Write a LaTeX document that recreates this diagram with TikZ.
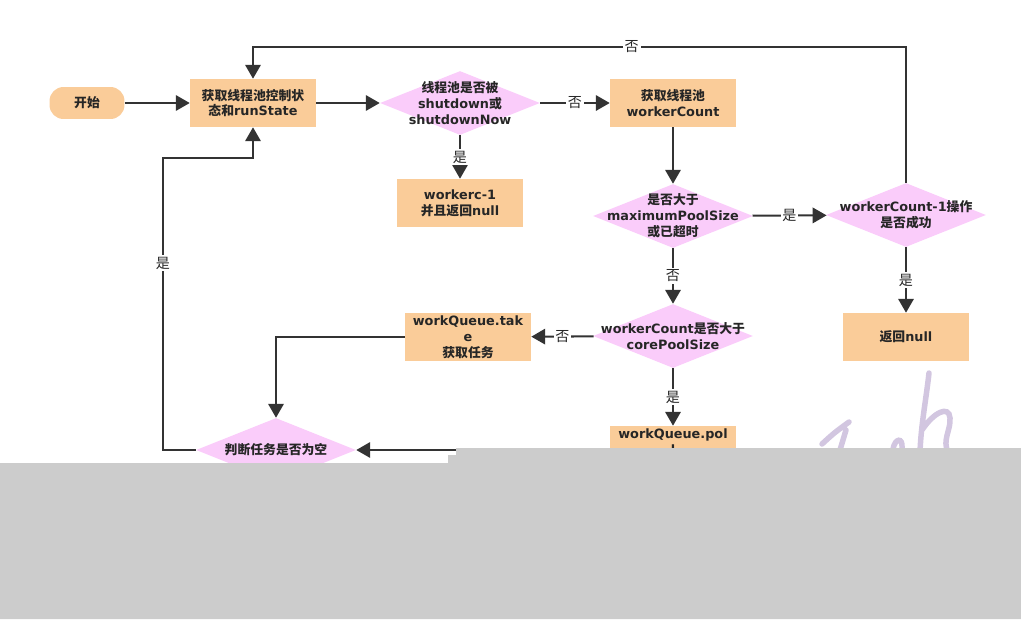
\documentclass[tikz,border=0pt]{standalone}
\usepackage{fontspec}
\setmainfont{DejaVu Sans}
\newfontfamily\zhfont{Noto Sans CJK SC}
\usetikzlibrary{arrows,shapes.geometric}
\definecolor{boxfill}{RGB}{250,204,153}
\definecolor{decfill}{RGB}{250,204,250}
\definecolor{linecol}{RGB}{51,51,51}
\definecolor{markcol}{RGB}{210,198,224}
\definecolor{coverfill}{RGB}{204,204,204}
\newcommand{\zh}[1]{{\zhfont #1}}

\begin{document}
\begin{tikzpicture}[x = 0.02cm, y = -0.02cm, every node/.style = {font = \fontsize{7.3}{9}\selectfont\bfseries, text = black!85, align = center},
	proc/.style = {rectangle, fill = boxfill, minimum width = 2.52cm, minimum height = 0.96cm, inner sep = 0pt},
	decide/.style = {diamond, fill = decfill, minimum width = 3.2cm, minimum height = 1.28cm, inner xsep = -1cm, inner ysep = -0.5cm},
	lbl/.style = {fill = white, inner sep = 1pt, font = \fontsize{8}{9}\selectfont\mdseries},
	conn/.style = {draw = linecol, line width = 1.15pt, -triangle 60}]

	\useasboundingbox (0,0) rectangle (1021,619);

	\node (start)   at ( 87, 103) [proc, minimum width = 1.5cm, minimum height = 0.64cm, rounded corners = 0.28cm] {\zh{开始}};
	\node (state)   at (253, 103) [proc]   {\zh{获取线程池控制状}\\\zh{态和}runState};
	\node (shut)    at (460, 103) [decide] {\zh{线程池是否被}\\shutdown\zh{或}\\shutdownNow};
	\node (count)   at (673, 103) [proc]   {\zh{获取线程池}\\workerCount};
	\node (minus)   at (460, 203) [proc]   {workerc-1\\\zh{并且返回}null};
	\node (maxsize) at (673, 216) [decide] {\zh{是否大于}\\maximumPoolSize\\\zh{或已超时}};
	\node (dec)     at (906, 215) [decide] {workerCount-1\zh{操作}\\\zh{是否成功}};
	\node (retnull) at (906, 337) [proc]   {\zh{返回}null};
	\node (core)    at (673, 336) [decide] {workerCount\zh{是否大于}\\corePoolSize};
	\node (take)    at (468, 337) [proc]   {workQueue.tak\\e\\\zh{获取任务}};
	\node (empty)   at (276, 450) [decide] {\zh{判断任务是否为空}};
	\node (poll)    at (673, 450) [proc]   {workQueue.pol\\l\\\zh{获取任务}};

	\coordinate (topR)  at (906, 47);
	\coordinate (topL)  at (253, 47);
	\coordinate (backB) at (163, 158);

	\foreach \from/\to in {start/state, state/shut, count/maxsize, poll/empty}
		\path (\from) edge [conn] (\to);
	\foreach \from/\txt/\to in {shut/否/count, shut/是/minus, maxsize/是/dec, maxsize/否/core,
	dec/是/retnull, core/否/take, core/是/poll}
		\path (\from) edge [conn] node[lbl] {\zh{\txt}} (\to);

	\draw [conn] (dec) -- (topR) -- node[lbl, pos = 0.42] {\zh{否}} (topL) -- (state);
	\draw [conn] (empty) -| node[lbl, pos = 0.82] {\zh{是}} (backB) -| (state);
	\draw [conn] (take) -| (empty);

	% signature watermark
	\draw [markcol, line width = 0.11cm, line cap = round]
		(822, 444) .. controls (834, 433) .. (849, 422)
		(846, 430) .. controls (843, 440) .. (840, 450)
		(893, 449) .. controls (895, 438) and (903, 437) .. (902, 448)
		(929, 373) .. controls (926, 400) and (921, 425) .. (920, 452)
		(922, 430) .. controls (934, 412) and (949, 405) .. (950, 418)
		.. controls (951, 430) and (942, 440) .. (948, 452);

	% grey cover over the lower part
	\fill [coverfill] (0, 463) -- (448, 463) -- (448, 455) -- (456, 455) -- (456, 448)
		-- (1021, 448) -- (1021, 619) -- (0, 619) -- cycle;

\end{tikzpicture}
\end{document}
